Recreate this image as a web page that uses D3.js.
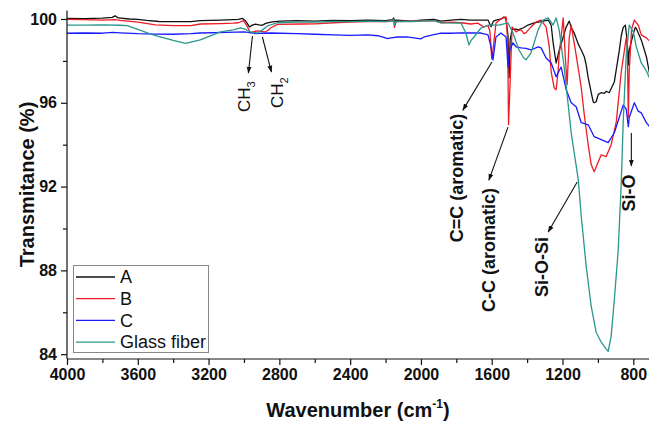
<!DOCTYPE html>
<html>
<head>
<meta charset="utf-8">
<script src="https://cdn.jsdelivr.net/npm/d3@7"></script>
<style>
html,body{margin:0;padding:0;background:#fff;}
svg{display:block;}
text{font-family:"Liberation Sans",Arial,sans-serif;}
</style>
</head>
<body>
<svg id="chart" width="649" height="423"></svg>
<script>
// ---- data (wavenumber cm-1, transmittance %) ----
const seriesNames = ["A", "B", "C", "Glass fiber"];
const seriesColors = ["#111111", "#ee1c24", "#1a1aff", "#2a978d"];

const dataA = [[4000,100.03],[3900,100.02],[3800,100.04],[3745,100.08],[3728,100.15],[3710,100.05],[3650,100.0],[3600,99.98],[3550,99.93],[3480,99.88],[3400,99.87],[3300,99.87],[3247,99.92],[3133,99.95],[3060,99.97],[3031,99.98],[3010,100.03],[2990,99.9],[2969,99.62],[2950,99.72],[2935,99.75],[2915,99.72],[2896,99.7],[2880,99.78],[2867,99.81],[2839,99.86],[2794,99.9],[2700,99.92],[2600,99.9],[2500,99.93],[2400,99.92],[2300,99.95],[2200,99.92],[2160,99.97],[2154,100.05],[2148,99.88],[2140,99.95],[2050,99.9],[2000,99.95],[1927,99.98],[1887,99.9],[1831,99.95],[1774,99.98],[1717,99.95],[1660,99.95],[1621,99.95],[1604,99.63],[1590,99.9],[1576,99.95],[1545,100.0],[1531,100.1],[1519,100.0],[1508,99.2],[1502,97.2],[1496,99.0],[1485,99.5],[1463,99.52],[1451,99.48],[1423,99.57],[1395,99.71],[1361,99.81],[1321,99.87],[1281,99.95],[1264,99.7],[1253,98.86],[1236,97.9],[1219,98.5],[1196,99.14],[1180,99.6],[1162,99.9],[1151,99.6],[1134,99.33],[1111,98.8],[1094,98.52],[1077,98.2],[1066,97.8],[1055,97.2],[1038,96.5],[1027,96.05],[1021,96.0],[1010,96.05],[998,96.4],[981,96.48],[964,96.45],[953,96.55],[936,96.48],[907,97.0],[896,97.6],[879,98.5],[868,99.2],[857,99.6],[845,99.7],[834,98.9],[828,97.8],[823,98.5],[800,99.3],[789,99.6],[783,99.55],[755,99.0],[726,98.2],[704,97.2]];

const dataB = [[4000,99.98],[3900,99.97],[3800,99.95],[3728,99.97],[3700,99.93],[3600,99.85],[3500,99.72],[3400,99.68],[3300,99.68],[3247,99.76],[3133,99.78],[3060,99.8],[3031,99.82],[3003,99.92],[2985,99.7],[2964,99.33],[2945,99.4],[2924,99.43],[2896,99.4],[2879,99.38],[2865,99.45],[2850,99.57],[2811,99.74],[2680,99.76],[2600,99.77],[2493,99.82],[2400,99.85],[2301,99.87],[2200,99.88],[2160,99.9],[2154,99.97],[2150,99.6],[2140,99.88],[2050,99.9],[1927,99.92],[1887,99.82],[1831,99.85],[1774,99.82],[1717,99.76],[1680,99.8],[1644,99.62],[1621,99.7],[1610,99.4],[1600,98.1],[1593,98.5],[1576,99.81],[1548,100.0],[1536,100.05],[1519,100.1],[1510,99.0],[1505,94.95],[1498,96.5],[1485,99.62],[1463,99.38],[1451,99.45],[1434,99.48],[1417,99.3],[1406,99.35],[1378,99.62],[1349,99.86],[1321,99.95],[1293,99.62],[1275,98.7],[1264,97.48],[1247,96.71],[1236,96.62],[1225,97.5],[1219,98.29],[1196,100.05],[1185,98.29],[1174,96.86],[1162,99.1],[1151,99.71],[1123,98.29],[1094,96.71],[1077,95.43],[1055,94.0],[1038,93.05],[1021,92.71],[998,93.19],[981,93.52],[953,93.43],[925,94.0],[896,95.1],[868,97.48],[840,99.1],[834,98.6],[828,95.3],[823,97.5],[810,99.5],[794,99.95],[772,99.71],[755,99.24],[726,99.1],[704,98.9]];

const dataC = [[4000,99.32],[3900,99.33],[3800,99.32],[3740,99.36],[3700,99.34],[3600,99.3],[3500,99.28],[3400,99.27],[3300,99.3],[3247,99.33],[3100,99.36],[3000,99.38],[2964,99.35],[2930,99.3],[2896,99.32],[2850,99.33],[2700,99.3],[2600,99.27],[2493,99.24],[2400,99.22],[2300,99.24],[2244,99.2],[2210,99.12],[2188,99.06],[2170,99.1],[2131,99.14],[2080,99.15],[2040,99.1],[2001,99.05],[1980,99.15],[1927,99.25],[1887,99.32],[1831,99.32],[1774,99.34],[1717,99.33],[1661,99.33],[1621,99.24],[1604,98.67],[1593,98.05],[1576,99.14],[1548,99.33],[1519,99.14],[1508,97.71],[1500,98.5],[1480,98.86],[1463,98.67],[1434,98.62],[1406,98.6],[1378,98.52],[1338,98.67],[1321,98.62],[1293,98.14],[1264,97.9],[1236,97.24],[1208,97.71],[1179,96.62],[1151,96.0],[1123,95.81],[1094,95.05],[1055,94.95],[1021,94.38],[981,94.24],[942,94.1],[907,94.57],[857,95.9],[840,95.7],[828,94.86],[823,95.3],[794,96.0],[772,95.6],[755,95.52],[726,95.05],[704,94.81]];

const dataGF = [[4000,99.71],[3900,99.71],[3800,99.72],[3700,99.7],[3660,99.68],[3600,99.5],[3500,99.2],[3400,98.98],[3330,98.84],[3247,99.0],[3133,99.38],[3060,99.48],[3020,99.57],[2990,99.5],[2964,99.38],[2940,99.35],[2924,99.33],[2896,99.48],[2867,99.67],[2811,99.82],[2700,99.85],[2600,99.85],[2500,99.88],[2400,99.87],[2300,99.9],[2200,99.88],[2160,99.9],[2154,100.0],[2148,99.7],[2140,99.88],[2050,99.88],[1927,99.92],[1887,99.81],[1800,99.8],[1774,99.81],[1746,99.33],[1729,98.76],[1715,99.0],[1700,99.14],[1661,99.57],[1615,99.71],[1559,99.71],[1508,99.81],[1480,99.33],[1446,98.52],[1420,98.15],[1406,98.05],[1378,98.38],[1338,99.48],[1310,99.95],[1281,100.05],[1253,99.71],[1236,100.05],[1219,99.48],[1191,97.71],[1151,94.57],[1111,92.33],[1094,90.57],[1066,88.19],[1038,86.29],[1010,85.05],[981,84.57],[953,84.24],[942,84.14],[925,84.86],[907,86.62],[885,89.0],[868,92.19],[857,95.1],[840,98.29],[823,99.71],[800,99.38],[783,98.67],[755,97.9],[726,97.52],[704,97.1]];

const xTicks = [4000, 3600, 3200, 2800, 2400, 2000, 1600, 1200, 800];
const xMinorTicks = [3800, 3400, 3000, 2600, 2200, 1800, 1400, 1000];
const yTicks = [84, 88, 92, 96, 100];
const yMinorTicks = [86, 90, 94, 98];

// annotations: arrow start/end and label position in data units
const arrows = [
  {from:[2952,99.19], to:[2975,97.42]},
  {from:[2896,99.14], to:[2845,97.47]},
  {from:[1599,97.95], to:[1763,95.65]},
  {from:[1508,94.84], to:[1616,92.31]},
  {from:[1117,92.22], to:[1281,89.83]},
  {from:[811,94.56],  to:[811,92.98]}
];
const centeredLabels = [
  {text:"C=C (aromatic)", at:[1797,92.41]},
  {text:"C-C (aromatic)", at:[1616,88.97]},
  {text:"Si-O-Si", at:[1315,88.16]},
  {text:"Si-O", at:[828,91.69]}
];
const chemLabels = [
  {main:"CH", sub:"3", at:[2964,95.56]},
  {main:"CH", sub:"2", at:[2782,95.75]}
];

// ---- drawing ----
const svg = d3.select("#chart");
const W = 649, H = 423;
const x = d3.scaleLinear().domain([4000, 700]).range([67, 651]);
const y = d3.scaleLinear().domain([83.77, 100.4]).range([359, 10.6]);

svg.append("defs").append("clipPath").attr("id","clip")
  .append("rect").attr("x",67).attr("y",0).attr("width",W-67).attr("height",359);
const marker = svg.select("defs").append("marker")
  .attr("id","arrowhead").attr("viewBox","0 0 10 10").attr("refX",9).attr("refY",5)
  .attr("markerWidth",7).attr("markerHeight",7).attr("orient","auto-start-reverse")
  .attr("markerUnits","userSpaceOnUse");
marker.append("path").attr("d","M0,1.5 L10,5 L0,8.5 Z").attr("fill","#111");

const line = d3.line().x(d => x(d[0])).y(d => y(d[1]));
const all = [dataA, dataB, dataC, dataGF];
const g = svg.append("g").attr("clip-path","url(#clip)");
all.forEach((s, i) => {
  g.append("path").datum(s).attr("d", line)
    .attr("fill","none").attr("stroke", seriesColors[i])
    .attr("stroke-width", 1.3).attr("stroke-linejoin","round");
});

// axes
const axisFont = g2 => g2.selectAll("text")
  .attr("font-family","'Liberation Sans', Arial, sans-serif")
  .attr("font-size",16).attr("font-weight","bold").attr("fill","#111");

const xAxis = svg.append("g").attr("transform","translate(0,359)")
  .call(d3.axisBottom(x).tickValues(xTicks).tickFormat(d3.format("d")).tickSize(6).tickPadding(4));
xAxis.select(".domain").attr("d", `M67,0H${W}`).attr("stroke","#111").attr("stroke-width",1.2);
xAxis.selectAll(".tick line").attr("stroke","#111").attr("stroke-width",1.2);
axisFont(xAxis);
svg.append("g").attr("transform","translate(0,359)")
  .call(d3.axisBottom(x).tickValues(xMinorTicks).tickFormat("").tickSize(4))
  .call(s => { s.select(".domain").remove(); s.selectAll("line").attr("stroke","#111").attr("stroke-width",1.2); });

const yAxis = svg.append("g").attr("transform","translate(67,0)")
  .call(d3.axisLeft(y).tickValues(yTicks).tickFormat(d3.format("d")).tickSize(6).tickPadding(4));
yAxis.select(".domain").attr("d", `M0,${y(100.4)}V359`).attr("stroke","#111").attr("stroke-width",1.2);
yAxis.selectAll(".tick line").attr("stroke","#111").attr("stroke-width",1.2);
axisFont(yAxis);
svg.append("g").attr("transform","translate(67,0)")
  .call(d3.axisLeft(y).tickValues(yMinorTicks).tickFormat("").tickSize(4))
  .call(s => { s.select(".domain").remove(); s.selectAll("line").attr("stroke","#111").attr("stroke-width",1.2); });

// axis titles
const xt = svg.append("text").attr("x", (67+W)/2).attr("y", 417)
  .attr("text-anchor","middle").attr("font-size",20).attr("font-weight","bold").attr("fill","#111");
xt.append("tspan").text("Wavenumber (cm");
xt.append("tspan").text("-1").attr("font-size",12).attr("dy",-9);
xt.append("tspan").text(")").attr("dy",9);

svg.append("text").attr("transform",`translate(34,${(10+359)/2}) rotate(-90)`)
  .attr("text-anchor","middle").attr("font-size",20).attr("font-weight","bold").attr("fill","#111")
  .text("Transmitance (%)");

// annotations
arrows.forEach(a => {
  svg.append("line").attr("x1",x(a.from[0])).attr("y1",y(a.from[1]))
    .attr("x2",x(a.to[0])).attr("y2",y(a.to[1]))
    .attr("stroke","#111").attr("stroke-width",1.1).attr("marker-end","url(#arrowhead)");
});
centeredLabels.forEach(l => {
  svg.append("text").attr("transform",`translate(${x(l.at[0])},${y(l.at[1])}) rotate(-90)`)
    .attr("text-anchor","middle").attr("dy","0.35em")
    .attr("font-size",18).attr("font-weight","bold").attr("fill","#111").text(l.text);
});
chemLabels.forEach(l => {
  const t = svg.append("text").attr("transform",`translate(${x(l.at[0])},${y(l.at[1])}) rotate(-90)`)
    .attr("text-anchor","start").attr("font-size",17).attr("fill","#111");
  t.append("tspan").text(l.main);
  t.append("tspan").text(l.sub).attr("font-size",11).attr("dy",5);
});

// legend
const lg = svg.append("g");
lg.append("rect").attr("x",73.5).attr("y",265.5).attr("width",135).attr("height",87)
  .attr("fill","#fff").attr("stroke","#888").attr("stroke-width",1);
seriesNames.forEach((n, i) => {
  const yy = 277 + i * 21.7;
  lg.append("line").attr("x1",76).attr("x2",115).attr("y1",yy).attr("y2",yy)
    .attr("stroke",seriesColors[i]).attr("stroke-width",1.3);
  lg.append("text").attr("x",120).attr("y",yy).attr("dy","0.35em")
    .attr("font-size",18).attr("fill","#111").text(n);
});
</script>
</body>
</html>
